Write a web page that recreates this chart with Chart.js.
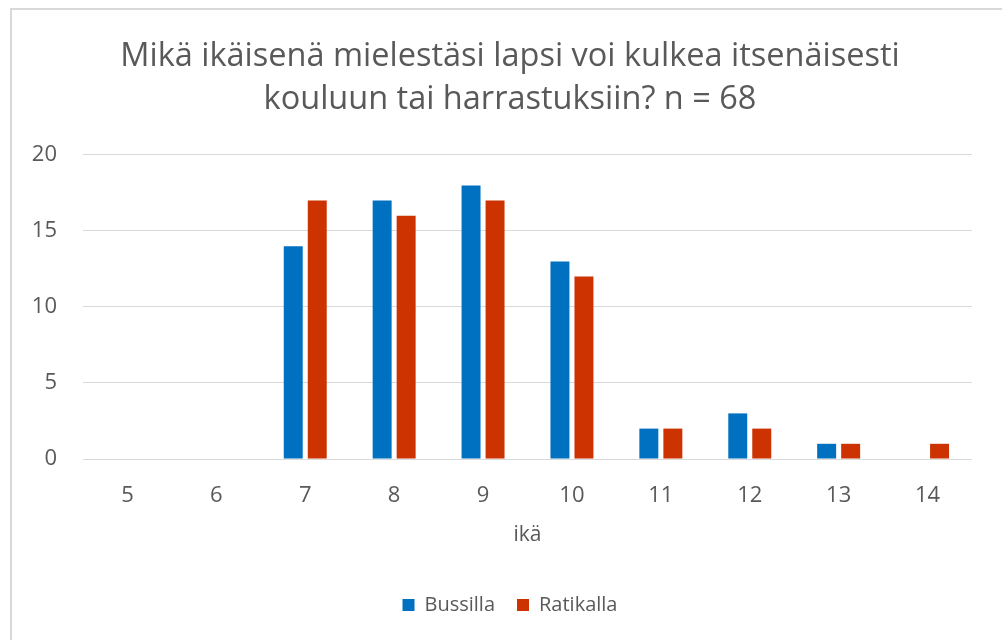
<!DOCTYPE html>
<html>
<head>
<meta charset="utf-8">
<script src="https://cdn.jsdelivr.net/npm/chart.js@4/dist/chart.umd.min.js"></script>
<style>
  html, body { margin: 0; padding: 0; background: #fff; overflow: hidden; }
  #box {
    position: absolute; left: 10px; top: 8px;
    width: 1000px; height: 640px;
    border: 2px solid #d9d9d9; background: #fff;
  }
  canvas { display: block; }
</style>
</head>
<body>
<div id="box"><canvas id="chart" width="990" height="630"></canvas></div>
<script>
const ages = ['5', '6', '7', '8', '9', '10', '11', '12', '13', '14'];
const bussilla = [0, 0, 14, 17, 18, 13, 2, 3, 1, 0];
const ratikalla = [0, 0, 17, 16, 17, 12, 2, 2, 1, 1];
const yTicks = [0, 5, 10, 15, 20];

const txt = '#595959';
const fam = "'Open Sans', sans-serif";

// y labels stick out into the left padding, widen their clip box
const unclipY = {
  id: 'unclipY',
  afterLayout(chart) { chart.scales.y.left = 0; }
};

const ctx = document.getElementById('chart').getContext('2d');
new Chart(ctx, {
  type: 'bar',
  data: {
    labels: ages,
    datasets: [
      { label: 'Bussilla', data: bussilla, backgroundColor: '#0070c0' },
      { label: 'Ratikalla', data: ratikalla, backgroundColor: '#cc3300' }
    ]
  },
  plugins: [unclipY],
  options: {
    responsive: false,
    animation: false,
    devicePixelRatio: 1,
    // left padding shifts title/legend centre to match the original
    layout: { padding: { left: 36, right: 30, top: 0, bottom: 15 } },
    datasets: { bar: { categoryPercentage: 0.54, barPercentage: 0.79 } },
    plugins: {
      title: {
        display: true,
        text: ['Mikä ikäisenä mielestäsi lapsi voi kulkea itsenäisesti', 'kouluun tai harrastuksiin? n = 68'],
        color: txt,
        font: { family: fam, size: 32.5, weight: 'normal', lineHeight: 1.323 },
        padding: { top: 25, bottom: 34 }
      },
      legend: {
        position: 'bottom',
        labels: {
          color: txt,
          font: { family: fam, size: 20 },
          boxWidth: 12, boxHeight: 12, padding: 22
        }
      },
      tooltip: { enabled: false }
    },
    scales: {
      x: {
        afterFit: s => { s.height = 114; },
        grid: { display: false, drawTicks: false },
        border: { display: false },
        ticks: { color: txt, font: { family: fam, size: 22 }, padding: 24 },
        title: {
          display: true, text: 'ikä', color: txt,
          font: { family: fam, size: 21 }, padding: { top: 0, bottom: 25 }
        }
      },
      y: {
        min: 0, max: 20,
        afterBuildTicks: s => { s.ticks = yTicks.map(v => ({ value: v })); },
        afterFit: s => { s.width = 35; },
        grid: { color: '#d9d9d9', drawTicks: false },
        border: { display: false },
        ticks: { color: txt, font: { family: fam, size: 22 }, padding: 26 }
      }
    }
  }
});
</script>
</body>
</html>
